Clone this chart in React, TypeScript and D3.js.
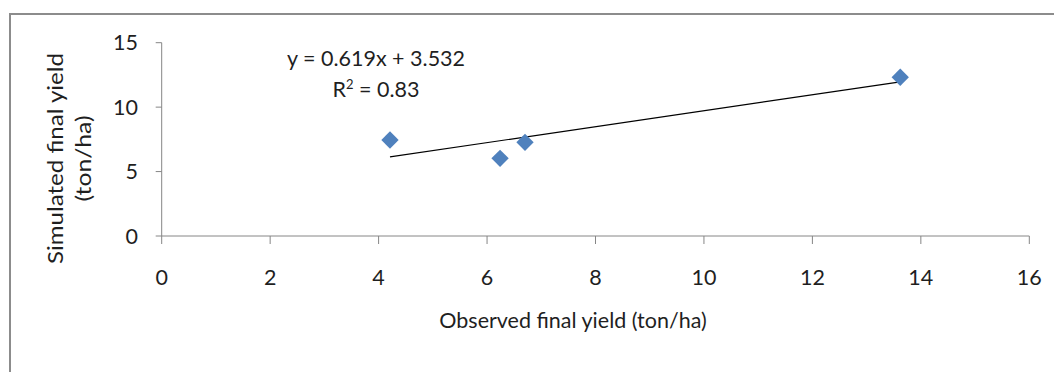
import * as d3 from "d3";

// Observed vs simulated final yield (ton/ha)
const observed = [4.21, 6.24, 6.7, 13.62];
const simulated = [7.45, 6.03, 7.27, 12.32];

// Linear trendline as shown on the chart
const slope = 0.619;
const intercept = 3.532;
const rSquared = "0.83";

const xTicks = [0, 2, 4, 6, 8, 10, 12, 14, 16];
const yTicks = [0, 5, 10, 15];

const W = 1054;
const H = 372;
const FONT = "Lato, 'Open Sans', sans-serif";
const FS = 21.5;

const App = () => {
  const x = d3.scaleLinear().domain([0, 16]).range([161.7, 1029.3]);
  const y = d3.scaleLinear().domain([0, 15]).range([236, 42.7]);

  const xMin = d3.min(observed) as number;
  const xMax = d3.max(observed) as number;
  const trend = d3
    .line<number>()
    .x((d) => x(d))
    .y((d) => y(slope * d + intercept))([xMin, xMax]);

  // square turned 45 degrees, like Excel's diamond marker
  const marker = d3.symbol().type(d3.symbolSquare).size(150)();
  const axisColor = "#868686";
  const textColor = "#1f1f1f";

  return (
    <svg
      width={W}
      height={H}
      style={{ position: "absolute", left: 0, top: 0, background: "#fff" }}
      fontFamily={FONT}
    >
      {/* chart frame */}
      <rect x={10} y={14} width={1100} height={400} fill="#fff" stroke="#8c8c8c" strokeWidth={2} />

      {/* y axis */}
      <line x1={x(0)} x2={x(0)} y1={y(15)} y2={y(0)} stroke={axisColor} />
      {yTicks.map((t) => (
        <g key={"y" + t}>
          <line x1={x(0) - 6} x2={x(0)} y1={y(t)} y2={y(t)} stroke={axisColor} />
          <text x={138} y={y(t)} dy="0.35em" textAnchor="end" fontSize={FS} fill={textColor}>
            {t}
          </text>
        </g>
      ))}

      {/* x axis */}
      <line x1={x(0)} x2={x(16)} y1={y(0)} y2={y(0)} stroke={axisColor} />
      {xTicks.map((t) => (
        <g key={"x" + t}>
          <line x1={x(t)} x2={x(t)} y1={y(0)} y2={y(0) + 8} stroke={axisColor} />
          <text x={x(t)} y={285} textAnchor="middle" fontSize={FS} fill={textColor}>
            {t}
          </text>
        </g>
      ))}

      {/* axis titles */}
      <text x={573} y={328} textAnchor="middle" fontSize={FS} fill={textColor}>
        Observed final yield (ton/ha)
      </text>
      <g transform="translate(0,158.5) rotate(-90)">
        <text
          x={0}
          y={63}
          textAnchor="middle"
          fontSize={FS}
          fill={textColor}
          textLength={211}
          lengthAdjust="spacingAndGlyphs"
        >
          Simulated final yield
        </text>
        <text
          x={0}
          y={91}
          textAnchor="middle"
          fontSize={FS}
          fill={textColor}
          textLength={86}
          lengthAdjust="spacingAndGlyphs"
        >
          (ton/ha)
        </text>
      </g>

      {/* trendline */}
      <path d={trend ?? ""} fill="none" stroke="#000" strokeWidth={1.2} />

      {/* points */}
      {observed.map((o, i) => (
        <path
          key={i}
          d={marker ?? ""}
          transform={`translate(${x(o)},${y(simulated[i])}) rotate(45)`}
          fill="#4F81BD"
        />
      ))}

      {/* equation label */}
      <text x={376} y={66} textAnchor="middle" fontSize={FS} fill={textColor}>
        {`y = ${slope}x + ${intercept}`}
      </text>
      <text x={376} y={97} textAnchor="middle" fontSize={FS} fill={textColor}>
        R<tspan dy={-8} fontSize={13}>2</tspan>
        <tspan dy={8}>{` = ${rSquared}`}</tspan>
      </text>
    </svg>
  );
};

export default App;
